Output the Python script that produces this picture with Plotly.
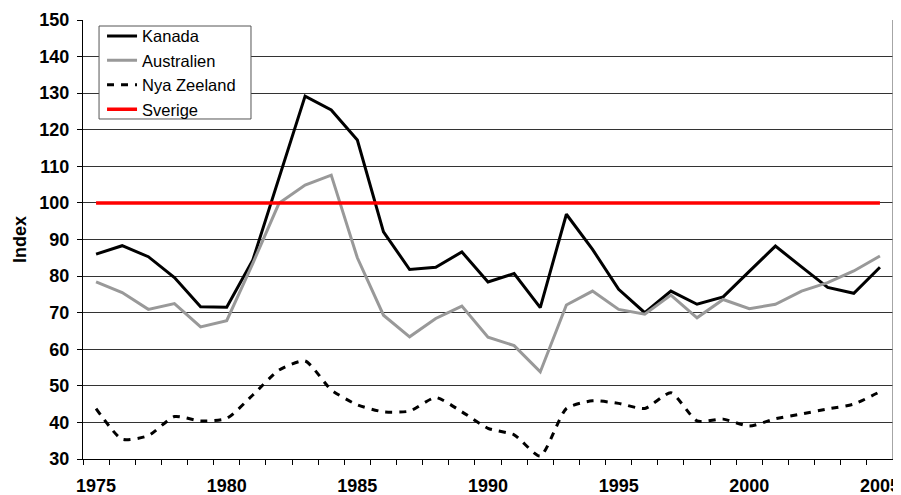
import plotly.graph_objects as go

years = list(range(1975, 2006))

kanada = [86.0, 88.3, 85.3, 79.6, 71.6, 71.5, 84.4, 107.0, 129.2, 125.4, 117.2,
          92.1, 81.8, 82.4, 86.6, 78.4, 80.7, 71.4, 96.9, 87.3, 76.4,
          70.0, 75.9, 72.3, 74.3, 81.3, 88.2, 82.5, 76.9, 75.3, 82.4]

australien = [78.4, 75.5, 70.9, 72.5, 66.1, 67.8, 83.5, 99.9, 104.9, 107.6, 85.0,
              69.3, 63.4, 68.4, 71.8, 63.3, 61.0, 53.8, 72.1, 75.9, 70.9,
              69.6, 74.8, 68.6, 73.6, 71.1, 72.3, 75.9, 78.2, 81.4, 85.5]

nya_zeeland = [43.8, 35.4, 36.4, 41.6, 40.4, 41.1, 47.5, 54.3, 56.8, 48.9, 44.8,
               42.9, 43.1, 46.8, 42.9, 38.4, 36.6, 30.8, 43.8, 45.9, 45.2,
               43.8, 48.1, 40.4, 40.9, 39.0, 41.0, 42.3, 43.7, 45.0, 48.4]

sverige = [100] * len(years)

x_tick_labels = [1975, 1980, 1985, 1990, 1995, 2000, 2005]
y_tick_vals = list(range(30, 151, 10))

FONT = "Liberation Sans, Arial, sans-serif"

fig = go.Figure()
fig.add_trace(go.Scatter(x=years, y=kanada, name="Kanada", mode="lines",
                         line=dict(color="black", width=3)))
fig.add_trace(go.Scatter(x=years, y=australien, name="Australien", mode="lines",
                         line=dict(color="#999999", width=3)))
fig.add_trace(go.Scatter(x=years, y=nya_zeeland, name="Nya Zeeland", mode="lines",
                         line=dict(color="black", width=3, dash="7px,7px", shape="spline",
                                   smoothing=0.6)))
fig.add_trace(go.Scatter(x=years, y=sverige, name="Sverige", mode="lines",
                         line=dict(color="#ff0000", width=3.5)))

tick_font = dict(family=FONT, size=18, color="black", weight="bold")

# The page body adds an 8px margin, so the figure is sized 893x487 to fill the window.
fig.update_layout(
    width=893, height=487,
    margin=dict(l=75, r=8, t=12, b=36, autoexpand=False),
    paper_bgcolor="white", plot_bgcolor="white",
    showlegend=True,
    legend=dict(x=0.0235, y=1.003, xanchor="left", yanchor="top",
                bgcolor="rgba(0,0,0,0)", borderwidth=0,
                font=dict(family=FONT, size=16.5, color="black"),
                tracegroupgap=0, itemwidth=30),
    xaxis=dict(range=[1974.5, 2005.5], tickmode="array", tickvals=x_tick_labels,
               ticktext=[str(v) for v in x_tick_labels],
               ticks="outside", ticklen=5, tickcolor="rgba(0,0,0,0)",
               tickfont=tick_font, ticklabelstandoff=5, automargin=False,
               showgrid=False, zeroline=False,
               showline=True, linecolor="black", linewidth=1,
               minor=dict(tick0=1974.5, dtick=1, ticks="outside", ticklen=5,
                          tickcolor="black", tickwidth=1, showgrid=False)),
    yaxis=dict(range=[30, 150], tickmode="array", tickvals=y_tick_vals,
               ticks="outside", ticklen=5, tickcolor="black",
               tickfont=tick_font, ticklabelstandoff=4, automargin=False,
               showgrid=True, gridcolor="#333333", gridwidth=1,
               zeroline=False, showline=True, linecolor="black", linewidth=1,
               title=dict(text="<b>Index</b>", font=dict(family=FONT, size=18, color="black"),
                          standoff=8)),
)

# legend frame (white box with grey border), drawn above the lines
fig.add_shape(type="rect", xref="paper", yref="paper",
              x0=0.0198, x1=0.2074, y0=0.7745, y1=0.9863, layer="above",
              fillcolor="white", line=dict(color="#555555", width=1))

# right border of the plot area
fig.add_shape(type="line", xref="paper", yref="paper", x0=1, x1=1, y0=0, y1=1,
              line=dict(color="#888888", width=1.5))

fig.write_html("out.html")
